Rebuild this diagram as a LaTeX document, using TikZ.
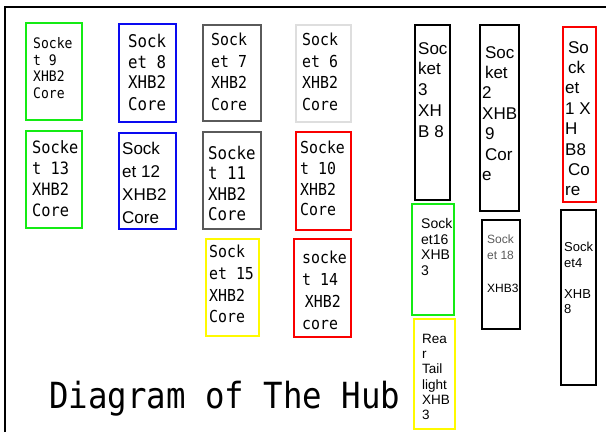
\documentclass[tikz,border=0pt]{standalone}
\usepackage{fontspec}
\newfontfamily\hubmono[FakeStretch=0.9]{DejaVu Sans Mono}
\newfontfamily\hubsans{Liberation Sans}
\definecolor{hubgreen}{RGB}{20,235,20}
\definecolor{hubblue}{RGB}{10,10,240}
\definecolor{hubdark}{RGB}{90,90,90}
\definecolor{hublight}{RGB}{222,222,222}
\definecolor{hubred}{RGB}{250,0,0}
\definecolor{hubyellow}{RGB}{255,250,0}
\tikzset{
    lbl/.style={inner sep=0pt, anchor=north west, align=left},
    mono/.style 2 args={lbl, font=\hubmono\fontsize{#1}{#2}\selectfont},
    sans/.style 2 args={lbl, font=\hubsans\fontsize{#1}{#2}\selectfont}
}
\begin{document}
\begin{tikzpicture}[x=1pt,y=-1pt]
                \useasboundingbox (0,0) rectangle (606,432);
                \draw[line width=2pt] (5,432) -- (5,7) -- (606,7);
                \foreach \xa/\ya/\xb/\yb/\c in {26/23/82/120/hubgreen, 119/24/176/122/hubblue, 26/131/82/228/hubgreen, 119/133/176/229/hubblue,
                    203/25/261/121/hubdark, 296/25/351/122/hublight, 203/132/261/229/hubdark, 296/132/351/230/hubred,
                    206/239/259/336/hubyellow, 294/239/351/337/hubred, 415/25/450/200/black, 480/25/519/211/black,
                    563/27/596/202/hubred, 412/204/454/315/hubgreen, 414/319/455/429/hubyellow, 482/220/520/329/black,
                    561/210/596/385/black}{
                    \draw[\c, line width=2pt] (\xa,\ya) rectangle (\xb,\yb);}
                \node[mono={14.5}{16.5}] (sock9) at (33,37.5) {Socke\\t 9\\XHB2\\Core};
                \node[mono={17}{21}] (sock13) at (32,140.5) {Socke\\t 13\\XHB2\\Core};
                \node[mono={17.5}{21}] (sock8) at (128,33.5) {Sock\\et 8\\XHB2\\Core};
                \node[sans={17}{23}] (sock12) at (122,142) {Sock\\et 12\\XHB2\\Core};
                \node[mono={16.5}{21.5}] (sock7) at (211,33) {Sock\\et 7\\XHB2\\Core};
                \node[mono={16.5}{21.5}] (sock6) at (302,33) {Sock\\et 6\\XHB2\\Core};
                \node[mono={17.5}{20.5}] (sock11) at (208,145.5) {Socke\\t 11\\XHB2\\Core};
                \node[mono={16.5}{20.7}] (sock10) at (300,141) {Socke\\t 10\\XHB2\\Core};
                \node[mono={16.5}{21.7}] (sock15) at (209,245) {Sock\\et 15\\XHB2\\Core};
                \node[mono={16.5}{22}] (sock14) at (302,251) {socke\\t 14\\\,XHB2\\core};
                \node[sans={17}{20.8}] (sock3) at (418,42) {Soc\\ket\\3\\XH\\B 8};
                \node[sans={17}{20.4}] (sock2) at (482,46) {\,Soc\\\,ket\\2\\XHB\\\,9\\\,Cor\\e};
                \node[sans={17}{20.4}] (sock1) at (565,41) {\,So\\\,ck\\et\\1 X\\H\\B8\\\,Co\\re};
                \node[sans={14}{15.7}] (sock16) at (421,218) {Sock\\et16\\XHB\\3};
                \node[sans={12}{16.5}, text=hubdark] (sock18) at (487,234.5) {Sock\\et 18\\[16.5pt]\textcolor{black}{XHB3}};
                \node[sans={13}{15.5}] (sock4) at (564,242) {Sock\\et4\\[15.5pt]XHB\\8};
                \node[sans={13.5}{15.2}] (rear) at (422,334) {Rea\\r\\Tail\\light\\XHB\\3};
                \node[inner sep=0pt, anchor=base west, font=\hubmono\fontsize{36}{40}\selectfont] (title) at (49,408) {Diagram of The Hub};
            \end{tikzpicture}
\end{document}
